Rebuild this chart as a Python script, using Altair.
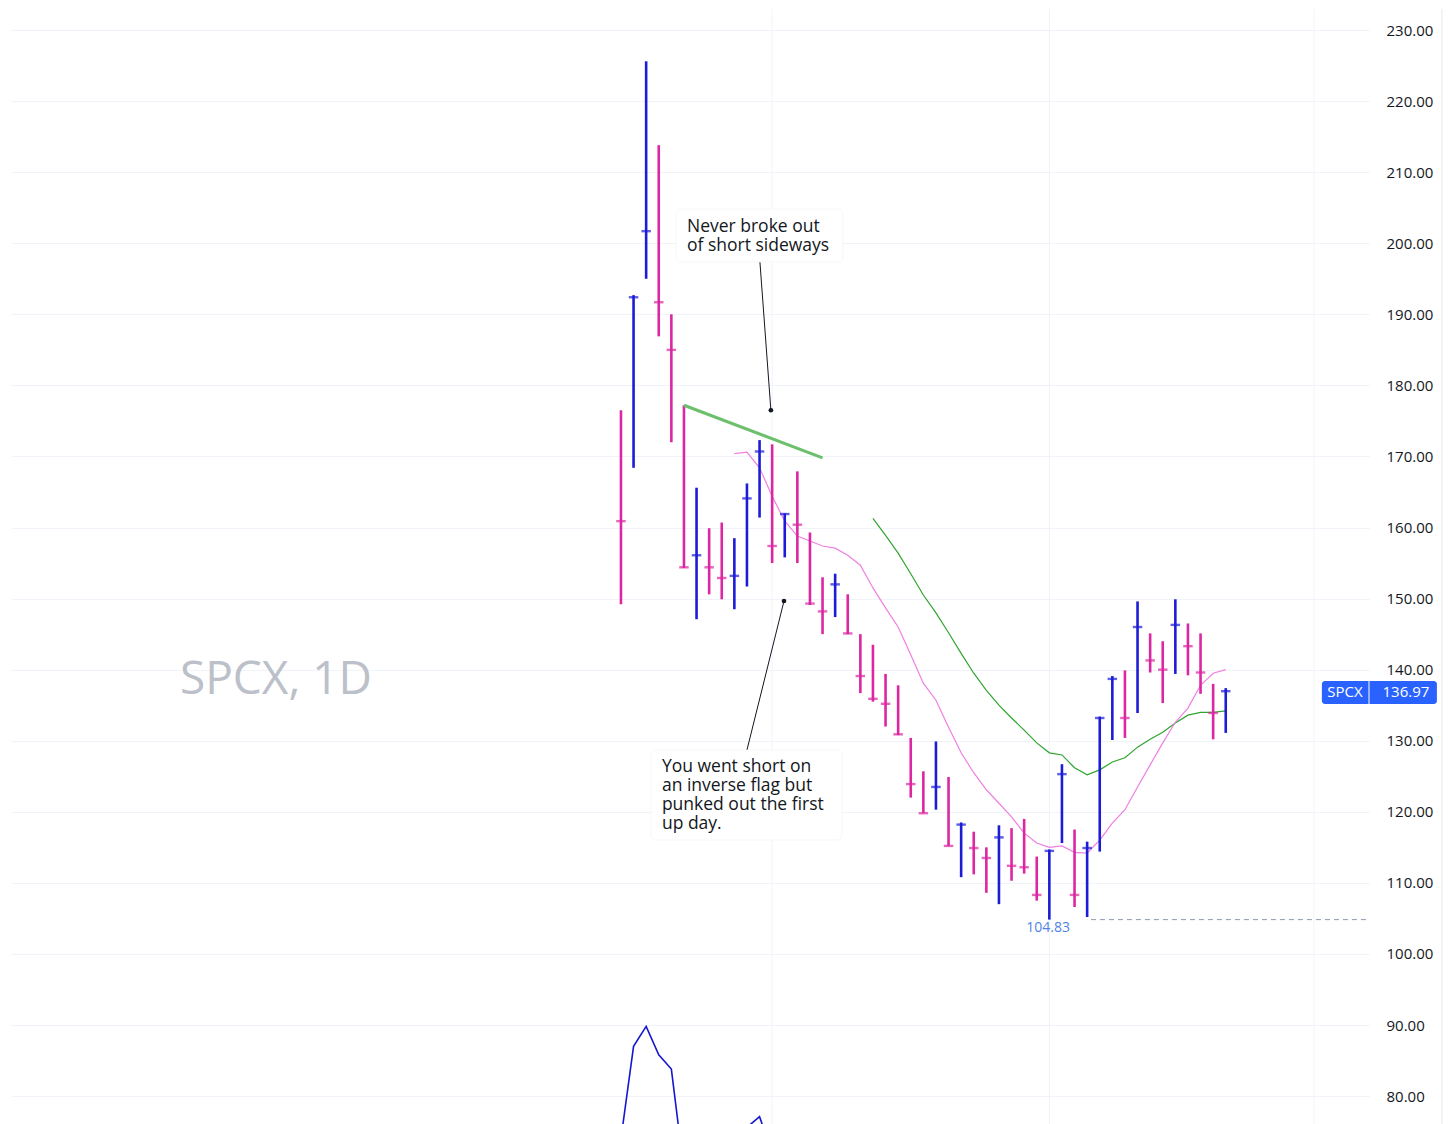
import altair as alt
import pandas as pd

# ---- OHLC-style bars (index = trading day) ----
high = [176.5, 192.7, 225.6, 213.8, 190.0, 177.2, 165.6, 159.9, 160.7, 158.5,
        166.2, 172.3, 171.7, 162.0, 167.9, 159.3, 153.0, 153.5, 150.6, 145.0,
        143.5, 139.4, 137.8, 130.4, 125.7, 129.9, 124.9, 118.5, 117.2, 115.0,
        118.1, 117.7, 119.0, 113.7, 114.7, 126.7, 117.5, 115.8, 133.4, 139.1,
        139.9, 149.6, 145.1, 144.0, 149.9, 146.5, 145.1, 138.0, 137.4]
low = [149.2, 168.4, 195.0, 186.9, 172.0, 154.3, 147.1, 150.6, 149.9, 148.5,
       151.7, 161.4, 155.0, 155.8, 155.0, 149.1, 145.0, 147.4, 145.0, 136.7,
       135.5, 132.0, 130.8, 122.0, 119.8, 120.3, 115.2, 110.8, 111.2, 108.6,
       107.0, 110.3, 111.3, 107.5, 104.83, 115.6, 106.6, 105.2, 114.4, 130.1,
       130.4, 133.9, 139.6, 135.3, 139.4, 139.2, 136.6, 130.2, 131.1]
close = [160.9, 192.4, 201.7, 191.7, 185.0, 154.4, 156.1, 154.4, 152.9, 153.2,
         164.1, 170.7, 157.4, 161.9, 160.4, 149.3, 148.2, 152.0, 145.1, 139.1,
         135.9, 135.2, 130.9, 123.9, 119.8, 123.5, 115.2, 118.2, 114.9, 113.5,
         116.4, 112.4, 112.2, 108.3, 114.5, 125.3, 108.3, 114.9, 133.2, 138.7,
         133.2, 146.0, 141.3, 140.0, 146.3, 143.3, 139.6, 133.9, 136.97]
direction = ["d", "u", "u", "d", "d", "d", "u", "d", "d", "u",
             "u", "u", "d", "u", "d", "d", "d", "u", "d", "d",
             "d", "d", "d", "d", "d", "u", "d", "u", "d", "d",
             "u", "d", "d", "d", "u", "u", "d", "u", "u", "u",
             "d", "u", "d", "d", "u", "d", "d", "d", "u"]

# ---- moving averages ----
ma_fast_start = 9
ma_fast = [170.4, 170.6, 168.4, 164.4, 160.9, 158.8, 158.1, 157.4, 157.1, 156.1,
           154.7, 151.5, 148.7, 146.0, 142.1, 138.1, 135.7, 131.9, 128.3, 125.5,
           123.1, 121.2, 119.3, 117.0, 115.6, 115.0, 115.2, 114.3, 114.2, 116.0,
           118.4, 120.3, 123.5, 126.6, 129.7, 132.6, 134.6, 137.8, 139.5, 140.0]
ma_slow_start = 20
ma_slow = [161.3, 158.9, 156.4, 153.5, 150.5, 148.0, 145.2, 142.3, 139.5, 137.1,
           135.0, 133.2, 131.5, 129.7, 128.3, 128.0, 126.2, 125.2, 125.9, 127.0,
           127.6, 129.1, 130.2, 131.2, 132.5, 133.6, 134.0, 134.0, 134.2]

# ---- lower indicator line (mostly off-screen) ----
ind_a_idx = [0, 1, 2, 3, 4, 5]
ind_a_val = [74.0, 87.0, 89.8, 85.8, 83.8, 69.5]
ind_b_idx = [10, 11, 12]
ind_b_val = [75.6, 77.1, 72.0]

# ---- drawn trend line ----
trend_idx = [5, 16]
trend_val = [177.2, 169.8]

# ---- time grid lines (month starts) ----
vgrid_idx = [12, 34, 55]

# ---- annotations ----
note1_text = "Never broke out\nof short sideways"
note1_top = 203.62
note1_x = 5.24
note1_box = dict(x=4.37, x2=17.62, y=204.81, y2=197.36)
note1_ptr = dict(x=11.03, y=197.36, x2=11.9, y2=176.5)

note2_text = "You went short on\nan inverse flag but\npunked out the first\nup day."
note2_top = 127.64
note2_x = 3.25
note2_box = dict(x=2.38, x2=17.54, y=128.69, y2=116.03)
note2_ptr = dict(x=10.0, y=128.69, x2=12.94, y2=149.66)

low_value = 104.83
last_value = 136.97
ticker = "SPCX"
watermark = "SPCX, 1D"

y_ticks = list(range(80, 231, 10))

X_DOM = [-48.41, 59.37]
Y_DOM = [75.93, 232.96]
xs = alt.Scale(domain=X_DOM, nice=False, zero=False)
ys = alt.Scale(domain=Y_DOM, nice=False, zero=False)
FONT = "Open Sans"
BLUE = "#1c1cd8"
MAG = "#dc26a2"

n = len(high)
bars = pd.DataFrame({"i": list(range(n)), "high": high, "low": low,
                     "close": close, "dir": direction})
color_enc = alt.Color("dir:N", scale=alt.Scale(domain=["u", "d"], range=[BLUE, MAG]),
                      legend=None)

base = alt.Chart(bars)

axis_layer = alt.Chart(pd.DataFrame({"v": y_ticks})).mark_point(opacity=0).encode(
    x=alt.value(0),
    y=alt.Y("v:Q", scale=ys, axis=alt.Axis(
        orient="right", values=y_ticks, format=".2f", grid=True,
        gridColor="#f0f3fa", gridWidth=1, domain=False, ticks=False,
        labelPadding=17, labelFont=FONT, labelFontSize=15, labelColor="#131722",
        title=None)),
)

vgrid = alt.Chart(pd.DataFrame({"i": vgrid_idx})).mark_rule(
    color="#f0f3fa", strokeWidth=1).encode(x=alt.X("i:Q", scale=xs, axis=None))

watermark_layer = alt.Chart(pd.DataFrame({"i": [-35.0], "v": [138.5], "t": [watermark]})).mark_text(
    align="left", baseline="middle", font=FONT, fontSize=46, color="#bcc0c9").encode(
    x=alt.X("i:Q", scale=xs, axis=None), y=alt.Y("v:Q", scale=ys), text="t:N")

hl = base.mark_rule(strokeWidth=2.6).encode(
    x=alt.X("i:Q", scale=xs, axis=None),
    y=alt.Y("low:Q", scale=ys), y2="high:Q", color=color_enc)
ticks = base.mark_tick(orient="horizontal", size=9.5, thickness=2.4).encode(
    x=alt.X("i:Q", scale=xs, axis=None),
    y=alt.Y("close:Q", scale=ys), color=color_enc)

fast_df = pd.DataFrame({"i": list(range(ma_fast_start, ma_fast_start + len(ma_fast))), "v": ma_fast})
slow_df = pd.DataFrame({"i": list(range(ma_slow_start, ma_slow_start + len(ma_slow))), "v": ma_slow})
fast_line = alt.Chart(fast_df).mark_line(color="#f07fe2", strokeWidth=1.2).encode(
    x=alt.X("i:Q", scale=xs, axis=None), y=alt.Y("v:Q", scale=ys))
slow_line = alt.Chart(slow_df).mark_line(color="#2fa52f", strokeWidth=1.2).encode(
    x=alt.X("i:Q", scale=xs, axis=None), y=alt.Y("v:Q", scale=ys))

ind_df = pd.DataFrame({"i": ind_a_idx + ind_b_idx, "v": ind_a_val + ind_b_val,
                       "seg": ["a"] * len(ind_a_idx) + ["b"] * len(ind_b_idx)})
ind_line = alt.Chart(ind_df).mark_line(color="#1616d0", strokeWidth=1.6, clip=True).encode(
    x=alt.X("i:Q", scale=xs, axis=None), y=alt.Y("v:Q", scale=ys), detail="seg:N")

trend = alt.Chart(pd.DataFrame({"i": trend_idx, "v": trend_val})).mark_line(
    color="#6cbf6c", strokeWidth=3.2).encode(
    x=alt.X("i:Q", scale=xs, axis=None), y=alt.Y("v:Q", scale=ys))

low_line = alt.Chart(pd.DataFrame({"i": [37.3], "i2": [X_DOM[1]], "v": [low_value]})).mark_rule(
    color="#8d99ae", strokeWidth=1, strokeDash=[5, 4]).encode(
    x=alt.X("i:Q", scale=xs, axis=None), x2="i2:Q", y=alt.Y("v:Q", scale=ys))
low_text = alt.Chart(pd.DataFrame({"i": [33.9], "v": [103.65], "t": [f"{low_value:.2f}"]})).mark_text(
    align="center", baseline="middle", font=FONT, fontSize=14, color="#4f83e6").encode(
    x=alt.X("i:Q", scale=xs, axis=None), y=alt.Y("v:Q", scale=ys), text="t:N")


def note_layers(box, ptr, text, top, lx):
    bdf = pd.DataFrame([box])
    enc = dict(x=alt.X("x:Q", scale=xs, axis=None), x2="x2:Q",
               y=alt.Y("y:Q", scale=ys), y2="y2:Q")
    shadow1 = alt.Chart(bdf).mark_rect(fill="#000000", opacity=0.04, cornerRadius=7,
                                        yOffset=3).encode(**enc)
    shadow2 = alt.Chart(bdf).mark_rect(fill="#000000", opacity=0.06, cornerRadius=6,
                                        yOffset=1).encode(**enc)
    rect = alt.Chart(bdf).mark_rect(fill="white", cornerRadius=5, stroke="#f0f1f4",
                                     strokeWidth=0.6).encode(**enc)
    pdf = pd.DataFrame([ptr])
    pline = alt.Chart(pdf).mark_rule(color="#131722", strokeWidth=1).encode(
        x=alt.X("x:Q", scale=xs, axis=None), x2="x2:Q", y=alt.Y("y:Q", scale=ys), y2="y2:Q")
    dot = alt.Chart(pdf).mark_circle(color="#131722", opacity=1, size=22).encode(
        x=alt.X("x2:Q", scale=xs, axis=None), y=alt.Y("y2:Q", scale=ys))
    tdf = pd.DataFrame({"i": [lx], "v": [top], "t": [text]})
    txt = alt.Chart(tdf).mark_text(align="left", baseline="top", font=FONT,
                                   fontSize=17.5, lineHeight=19, lineBreak="\n",
                                   color="#131722").encode(
        x=alt.X("i:Q", scale=xs, axis=None), y=alt.Y("v:Q", scale=ys), text="t:N")
    return [pline, dot, shadow1, shadow2, rect, txt]


n1 = note_layers(note1_box, note1_ptr, note1_text, note1_top, note1_x)
n2 = note_layers(note2_box, note2_ptr, note2_text, note2_top, note2_x)

badge_df = pd.DataFrame({"x": [55.63], "x2": [64.76], "y": [138.40], "y2": [135.16]})
badge = alt.Chart(badge_df).mark_rect(fill="#2962ff", cornerRadius=3).encode(
    x=alt.X("x:Q", scale=xs, axis=None), x2="x2:Q", y=alt.Y("y:Q", scale=ys), y2="y2:Q")
badge_sep = alt.Chart(pd.DataFrame({"x": [59.37], "y": [138.40], "y2": [135.16]})).mark_rule(
    color="white", strokeWidth=1).encode(
    x=alt.X("x:Q", scale=xs, axis=None), y=alt.Y("y:Q", scale=ys), y2="y2:Q")
badge_txt = alt.Chart(pd.DataFrame({"x": [57.46, 62.30], "v": [136.85, 136.85],
                                    "t": [ticker, f"{last_value:.2f}"]})).mark_text(
    align="center", baseline="middle", font=FONT, fontSize=15, fontWeight=500,
    color="white").encode(
    x=alt.X("x:Q", scale=xs, axis=None), y=alt.Y("v:Q", scale=ys), text="t:N")

edge = alt.Chart(pd.DataFrame({"x": [65.16]})).mark_rule(color="#e6e8ee", strokeWidth=1).encode(
    x=alt.X("x:Q", scale=xs, axis=None))

chart = alt.layer(
    axis_layer, vgrid, edge, watermark_layer, ind_line, slow_line, fast_line,
    hl, ticks, trend, low_line, low_text, *n1, *n2, badge, badge_sep, badge_txt
).properties(
    width=1358, height=1116, padding=0, background="white"
).configure_view(stroke=None)

chart.save("out.html", embed_options={"renderer": "svg", "actions": False})
